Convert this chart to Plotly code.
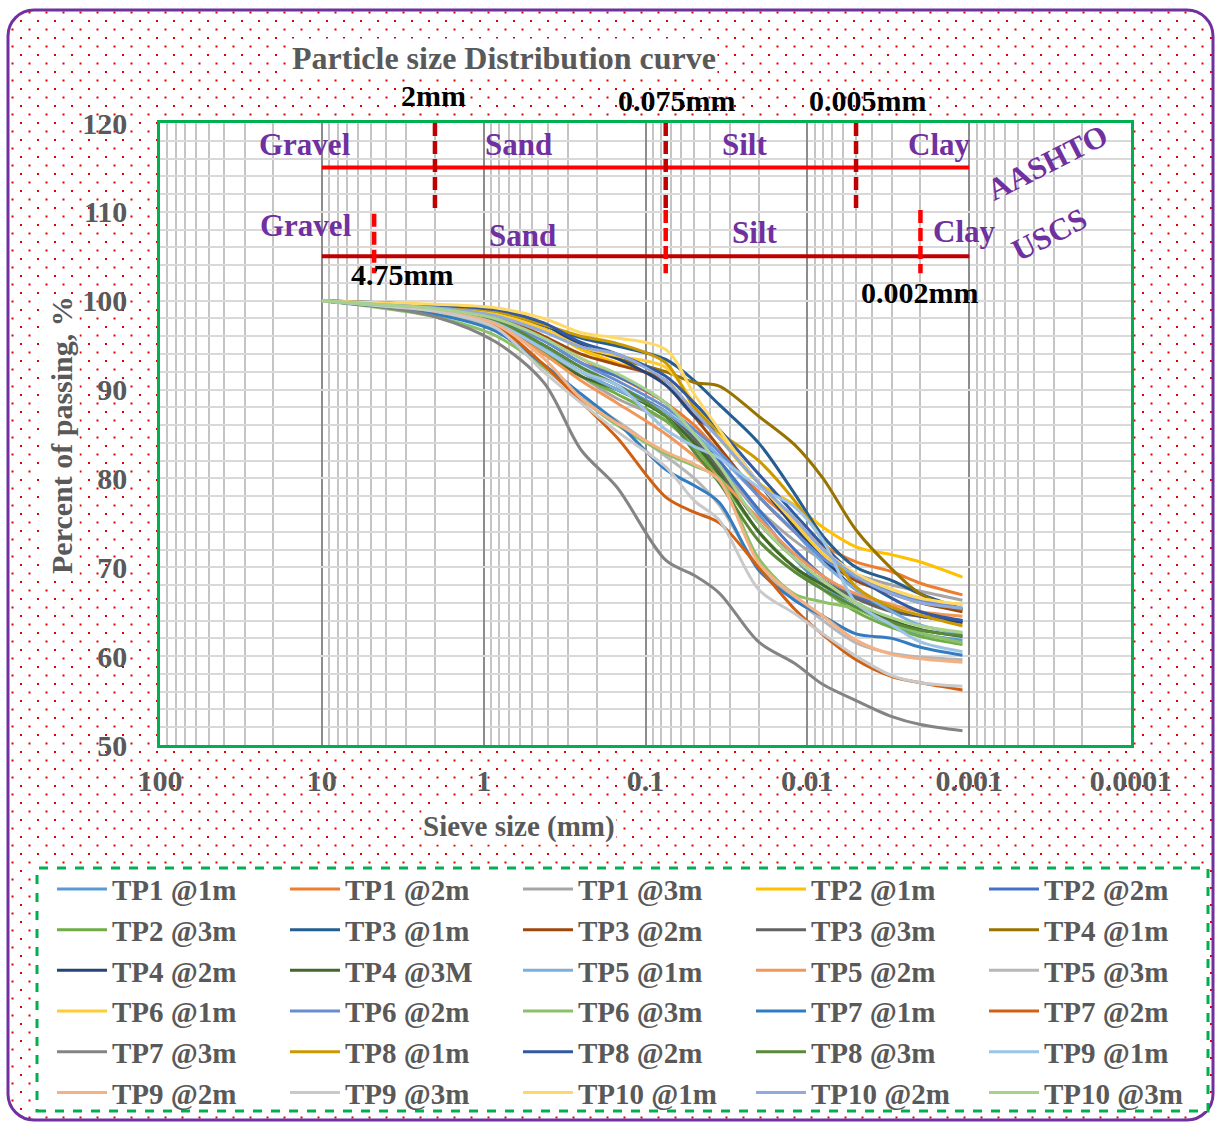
import math
import base64
import plotly.graph_objects as go

# ---------------------------------------------------------------------------
# Grain-size data: percent passing vs. particle diameter (mm)
# ---------------------------------------------------------------------------
sieve_mm = [10, 4.75, 2, 0.85, 0.425, 0.25, 0.15, 0.075, 0.05, 0.035,
            0.02, 0.012, 0.008, 0.005, 0.003, 0.002, 0.0011]

tp1_1m = [100, 99.6, 99.0, 97.8, 95.0, 92.5, 90.5, 87.5, 84.5, 81.5, 76.0, 71.0, 68.0, 65.5, 63.5, 62.5, 61.8]
tp1_2m = [100, 99.6, 99.2, 98.2, 96.0, 93.5, 91.5, 88.5, 86.0, 83.0, 78.5, 75.0, 72.5, 70.6, 69.5, 68.2, 66.9]
tp1_3m = [100, 99.5, 98.9, 97.5, 94.5, 91.5, 89.0, 86.5, 84.0, 81.0, 76.5, 73.0, 70.8, 69.2, 68.0, 67.3, 66.3]
tp2_1m = [100, 99.7, 99.3, 98.4, 96.8, 94.5, 93.0, 91.0, 87.5, 84.5, 79.5, 77.0, 74.5, 72.3, 71.4, 70.6, 68.9]
tp2_2m = [100, 99.6, 99.1, 97.9, 95.5, 93.0, 91.5, 88.5, 85.0, 82.0, 76.5, 72.0, 69.0, 66.8, 65.2, 64.5, 63.8]
tp2_3m = [100, 99.4, 98.7, 97.2, 94.2, 91.5, 89.5, 86.5, 83.5, 80.0, 74.0, 70.0, 67.5, 65.0, 63.2, 62.2, 61.3]
tp3_1m = [100, 99.7, 99.4, 98.8, 97.2, 95.8, 94.9, 93.4, 91.0, 88.3, 84.0, 78.3, 73.5, 70.0, 68.5, 67.0, 65.3]
tp3_2m = [100, 99.6, 99.2, 98.2, 96.0, 94.0, 92.8, 91.0, 87.0, 83.5, 78.0, 74.0, 71.0, 68.5, 67.0, 66.0, 65.0]
tp3_3m = [100, 99.5, 99.0, 97.6, 94.8, 92.0, 90.0, 87.5, 84.5, 81.0, 75.0, 71.0, 68.5, 66.5, 65.0, 64.5, 64.0]
tp4_1m = [100, 99.7, 99.3, 98.5, 96.8, 94.8, 93.5, 92.0, 90.8, 90.4, 87.0, 83.8, 80.0, 74.2, 69.8, 67.0, 65.2]
tp4_2m = [100, 99.8, 99.4, 98.9, 97.3, 95.0, 93.5, 90.5, 87.0, 85.0, 79.5, 74.5, 71.0, 67.5, 65.5, 64.5, 63.8]
tp4_3m = [100, 99.5, 98.9, 97.5, 94.0, 91.5, 90.0, 87.0, 84.0, 80.5, 74.0, 70.0, 68.0, 66.0, 64.0, 63.0, 62.2]
tp5_1m = [100, 99.6, 99.0, 97.6, 94.8, 92.0, 90.0, 87.5, 85.0, 82.5, 78.0, 74.0, 70.5, 67.5, 65.0, 63.5, 62.5]
tp5_2m = [100, 99.5, 98.8, 97.2, 94.0, 91.0, 88.5, 85.0, 82.5, 80.0, 75.5, 71.5, 69.0, 67.0, 65.8, 65.0, 64.5]
tp5_3m = [100, 99.5, 98.6, 96.8, 92.5, 89.0, 86.5, 82.5, 80.0, 77.0, 70.0, 66.5, 64.0, 61.5, 60.3, 59.9, 59.6]
tp6_1m = [100, 99.7, 99.3, 98.5, 96.8, 94.8, 93.8, 92.5, 88.5, 85.0, 79.5, 75.0, 71.5, 69.0, 67.5, 66.5, 65.8]
tp6_2m = [100, 99.6, 99.1, 98.0, 95.5, 93.0, 91.0, 88.0, 85.5, 83.0, 78.0, 74.0, 71.0, 68.8, 67.2, 66.3, 65.4]
tp6_3m = [100, 99.3, 98.2, 96.1, 92.5, 89.0, 86.0, 82.8, 81.4, 80.0, 71.0, 67.0, 66.1, 65.3, 63.6, 62.6, 61.5]
tp7_1m = [100, 99.4, 98.5, 96.6, 92.8, 89.5, 86.3, 81.0, 79.2, 77.3, 69.7, 66.3, 64.5, 62.5, 62.0, 61.0, 60.1]
tp7_2m = [100, 99.6, 98.8, 97.2, 92.8, 88.6, 84.6, 77.9, 76.2, 75.0, 70.0, 65.3, 62.4, 59.6, 57.7, 57.0, 56.2]
tp7_3m = [100, 99.4, 98.2, 95.4, 90.8, 83.2, 79.0, 70.8, 69.1, 67.1, 61.6, 59.2, 56.8, 55.0, 53.2, 52.3, 51.6]
tp8_1m = [100, 99.7, 99.4, 98.8, 97.3, 96.0, 95.2, 93.0, 88.0, 85.2, 82.0, 77.5, 73.0, 67.8, 65.5, 64.6, 63.4]
tp8_2m = [100, 99.8, 99.5, 99.0, 97.5, 95.3, 94.0, 91.5, 88.5, 85.5, 80.5, 76.0, 72.5, 69.0, 66.5, 65.0, 64.0]
tp8_3m = [100, 99.5, 99.0, 97.8, 95.0, 92.5, 90.5, 87.0, 83.0, 79.5, 73.0, 69.5, 67.5, 65.5, 63.8, 62.9, 62.3]
tp9_1m = [100, 99.5, 98.9, 97.5, 94.5, 92.0, 90.5, 85.5, 83.6, 82.3, 79.0, 76.8, 73.0, 66.0, 63.5, 61.6, 60.5]
tp9_2m = [100, 99.6, 98.9, 97.4, 93.5, 89.0, 86.2, 83.0, 81.6, 79.8, 70.5, 66.8, 64.5, 61.8, 60.2, 59.7, 59.3]
tp9_3m = [100, 99.5, 98.8, 97.0, 92.0, 88.5, 85.3, 81.3, 77.5, 75.3, 67.5, 64.8, 62.5, 60.0, 57.8, 57.0, 56.6]
tp10_1m = [100, 99.8, 99.6, 99.2, 98.0, 96.4, 95.8, 94.5, 89.5, 85.5, 79.5, 75.5, 72.0, 69.3, 67.5, 66.5, 65.8]
tp10_2m = [100, 99.6, 99.2, 98.3, 96.5, 94.8, 94.0, 91.0, 87.5, 84.5, 79.5, 75.5, 72.0, 69.0, 67.0, 66.0, 65.4]
tp10_3m = [100, 99.6, 99.1, 98.0, 95.8, 93.5, 91.8, 88.5, 85.0, 81.5, 75.0, 71.0, 68.5, 66.0, 64.3, 63.4, 62.7]

series_names = [
    "TP1 @1m", "TP1 @2m", "TP1 @3m", "TP2 @1m", "TP2 @2m",
    "TP2 @3m", "TP3 @1m", "TP3 @2m", "TP3 @3m", "TP4 @1m",
    "TP4 @2m", "TP4 @3M", "TP5 @1m", "TP5 @2m", "TP5 @3m",
    "TP6 @1m", "TP6 @2m", "TP6 @3m", "TP7 @1m", "TP7 @2m",
    "TP7 @3m", "TP8 @1m", "TP8 @2m", "TP8 @3m", "TP9 @1m",
    "TP9 @2m", "TP9 @3m", "TP10 @1m", "TP10 @2m", "TP10 @3m",
]
passing = [
    tp1_1m, tp1_2m, tp1_3m, tp2_1m, tp2_2m, tp2_3m, tp3_1m, tp3_2m, tp3_3m, tp4_1m,
    tp4_2m, tp4_3m, tp5_1m, tp5_2m, tp5_3m, tp6_1m, tp6_2m, tp6_3m, tp7_1m, tp7_2m,
    tp7_3m, tp8_1m, tp8_2m, tp8_3m, tp9_1m, tp9_2m, tp9_3m, tp10_1m, tp10_2m, tp10_3m,
]
series_colors = [
    "#5B9BD5", "#ED7D31", "#A5A5A5", "#FFC000", "#4472C4",
    "#70AD47", "#255E91", "#9E480E", "#636363", "#997300",
    "#264478", "#43682B", "#7CAFDD", "#F1975A", "#B7B7B7",
    "#FFCD33", "#698ED0", "#8CC168", "#327DC2", "#D26012",
    "#848484", "#CC9A00", "#335AA1", "#5A8A39", "#9DC3E6",
    "#F4B183", "#C9C9C9", "#FFD966", "#8FAADC", "#A9D18E",
]

# Soil classification boundaries (mm)
band_extent_mm = [10, 0.001]
aashto_level = 115
uscs_level = 105
aashto_bounds_mm = [2, 0.075, 0.005]
uscs_bounds_mm = [4.75, 0.075, 0.002]
aashto_bound_labels = ["2mm", "0.075mm", "0.005mm"]
uscs_bound_labels = ["4.75mm", "0.002mm"]
fraction_labels = ["Gravel", "Sand", "Silt", "Clay"]

x_ticks = [100, 10, 1, 0.1, 0.01, 0.001, 0.0001]
x_ticktext = ["100", "10", "1", "0.1", "0.01", "0.001", "0.0001"]

# ---------------------------------------------------------------------------
SERIF = "Liberation Serif, Times New Roman, serif"
GREY = "#595959"
PURPLE = "#7030A0"
W, H = 1219, 1124
ML, MR, MT, MB = 160, 88, 123, 379
PW, PH = W - ML - MR, H - MT - MB


def px_x(px):
    return (px - ML) / PW


def px_y(py):
    return (H - MB - py) / PH


fig = go.Figure()

# grading curves, one legend column per 5-wide row position
for i, (name, vals, color) in enumerate(zip(series_names, passing, series_colors)):
    col = i % 5
    fig.add_trace(go.Scatter(
        x=sieve_mm, y=vals, name=name, mode="lines",
        line=dict(color=color, width=3, shape="spline", smoothing=0.9),
        legend="legend" if col == 0 else f"legend{col + 1}",
        hoverinfo="name+x+y",
    ))

# classification bands
fig.add_trace(go.Scatter(x=band_extent_mm, y=[aashto_level] * 2, mode="lines",
                         line=dict(color="#FF0000", width=4), showlegend=False, hoverinfo="skip"))
fig.add_trace(go.Scatter(x=band_extent_mm, y=[uscs_level] * 2, mode="lines",
                         line=dict(color="#C00000", width=4), showlegend=False, hoverinfo="skip"))
for b in aashto_bounds_mm:
    fig.add_trace(go.Scatter(x=[b, b], y=[120, 110], mode="lines",
                             line=dict(color="#C00000", width=4.5, dash="13px,5px"),
                             showlegend=False, hoverinfo="skip"))
for b, top in zip(uscs_bounds_mm, [109.8, 110.2, 110.2]):
    fig.add_trace(go.Scatter(x=[b, b], y=[top, 103.1], mode="lines",
                             line=dict(color="#FF0000", width=4.5, dash="13px,5px"),
                             showlegend=False, hoverinfo="skip"))

annotations = []


def data_note(text, x_mm, y, size=31, color=PURPLE, angle=0, yref="y"):
    annotations.append(dict(
        text=text, x=math.log10(x_mm), y=y, xref="x", yref=yref, showarrow=False,
        xanchor="center", yanchor="middle", textangle=angle,
        font=dict(family=SERIF, size=size, color=color, weight="bold"),
    ))


# AASHTO row
for lab, xm in zip(fraction_labels, [12.7, 0.608, 0.0245, 0.00153]):
    data_note(lab, xm, 117.6)
# USCS row
for lab, xm, yv in zip(fraction_labels, [12.5, 0.574, 0.0212, 0.00107], [108.5, 107.3, 107.7, 107.8]):
    data_note(lab, xm, yv)
data_note("AASHTO", 0.00033, 115.6, angle=-27)
data_note("USCS", 0.00032, 107.4, angle=-27)

# boundary size labels (AASHTO ones sit above the plot frame)
for lab, xm, py in zip(aashto_bound_labels, [2.05, 0.0644, 0.00427], [95, 100, 100]):
    data_note(lab, xm, px_y(py), size=30, color="black", yref="paper")
for lab, xm, yv in zip(uscs_bound_labels, [3.21, 0.00204], [102.9, 100.9]):
    data_note(lab, xm, yv, size=30, color="black")


def paper_note(text, px, py, size, angle=0, bg="white"):
    annotations.append(dict(
        text=text, xref="paper", yref="paper", x=px_x(px), y=px_y(py),
        xanchor="center", yanchor="middle", showarrow=False, bgcolor=bg, textangle=angle,
        font=dict(family=SERIF, size=size, color=GREY, weight="bold"),
    ))


paper_note("Particle size Distribution curve", 504, 58, 32)
paper_note("Sieve size (mm)", 519, 826, 29)
paper_note("Percent of passing, %", 61, 435, 30, angle=-90)

# dotted page background with rounded purple frame
svg = (
    f"<svg xmlns='http://www.w3.org/2000/svg' width='{W}' height='{H}'>"
    "<defs><pattern id='d' width='17' height='17' patternUnits='userSpaceOnUse'>"
    "<rect x='3' y='3' width='2' height='2' fill='#e00000'/>"
    "<rect x='11.5' y='11.5' width='2' height='2' fill='#e00000'/>"
    "</pattern></defs>"
    f"<rect width='{W}' height='{H}' fill='white'/>"
    "<rect x='8' y='10' width='1205' height='1110' rx='26' ry='26' fill='url(#d)' "
    "stroke='#7030a0' stroke-width='3'/>"
    "</svg>"
)
bg_uri = "data:image/svg+xml;base64," + base64.b64encode(svg.encode()).decode()

shapes = [
    dict(type="rect", xref="paper", yref="paper", x0=0, x1=1, y0=0, y1=1,
         fillcolor="white", line=dict(width=0), layer="below"),
    dict(type="rect", xref="paper", yref="paper",
         x0=px_x(37), x1=px_x(1208), y0=px_y(1111), y1=px_y(868),
         fillcolor="white", line=dict(color="#00B050", width=3, dash="dash"), layer="below"),
]

legend_font = dict(family=SERIF, size=29, color=GREY, weight="bold")
legend_cfg = {}
for col in range(5):
    key = "legend" if col == 0 else f"legend{col + 1}"
    legend_cfg[key] = dict(
        orientation="v", x=px_x(52 + 233 * col), xanchor="left",
        y=px_y(863.6), yanchor="top", bgcolor="rgba(0,0,0,0)", borderwidth=0,
        font=legend_font, itemwidth=50, tracegroupgap=0,
    )

fig.update_layout(
    width=W, height=H,
    margin=dict(l=ML, r=MR, t=MT, b=MB, autoexpand=False),
    paper_bgcolor="white", plot_bgcolor="white",
    showlegend=True,
    annotations=annotations, shapes=shapes,
    images=[dict(source=bg_uri, xref="paper", yref="paper", x=-ML / PW, y=1 + MT / PH,
                 sizex=W / PW, sizey=H / PH, xanchor="left", yanchor="top",
                 sizing="stretch", layer="below")],
    **legend_cfg,
)

fig.update_xaxes(
    type="log", range=[2, -4], tickvals=x_ticks, ticktext=x_ticktext,
    showgrid=True, gridcolor="#8c8c8c", gridwidth=1.5,
    minor=dict(dtick="D1", showgrid=True, gridcolor="#c4c4c4", gridwidth=1.5, ticks=""),
    showline=True, linecolor="#00B050", linewidth=2.5, mirror=True,
    ticks="", zeroline=False, ticklabelstandoff=7,
    tickfont=dict(family=SERIF, size=30, color=GREY, weight="bold"),
)
fig.update_yaxes(
    range=[50, 120], dtick=10, tick0=50,
    showgrid=True, gridcolor="#d9d9d9", gridwidth=1.5,
    minor=dict(dtick=2, showgrid=True, gridcolor="#d9d9d9", gridwidth=1.5, ticks=""),
    showline=True, linecolor="#00B050", linewidth=2.5, mirror=True,
    ticks="", zeroline=False, ticklabelstandoff=24,
    tickfont=dict(family=SERIF, size=30, color=GREY, weight="bold"),
)

fig.write_html("out.html")
